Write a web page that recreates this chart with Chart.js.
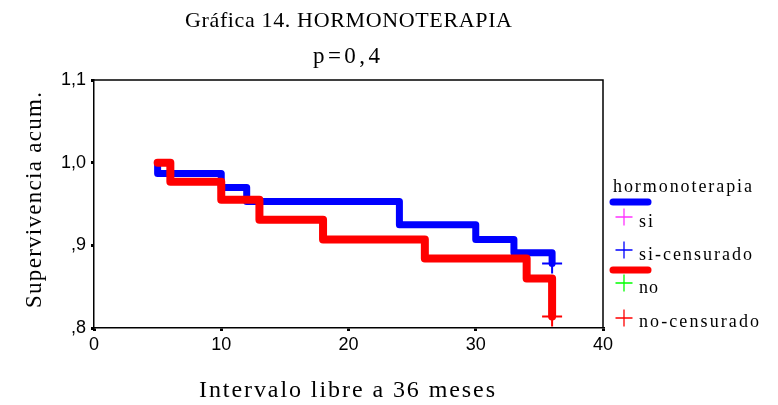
<!DOCTYPE html>
<html>
<head>
<meta charset="utf-8">
<script src="https://cdn.jsdelivr.net/npm/chart.js@4/dist/chart.umd.min.js"></script>
<style>
  html, body { margin: 0; padding: 0; background: #fff; }
  #wrap { width: 778px; height: 405px; }
</style>
</head>
<body>
<div id="wrap"><canvas id="kmChart" width="778" height="405"></canvas></div>
<script>
// Kaplan-Meier curves
const siTimes = [5, 5, 10, 12, 24, 30, 33, 36];
const siSurv = [1.0, 0.987, 0.970, 0.953, 0.925, 0.907, 0.891, 0.878];
const noTimes = [5, 6, 10, 13, 18, 26, 34, 36];
const noSurv = [1.0, 0.977, 0.955, 0.931, 0.907, 0.884, 0.860, 0.814];

// censored marks
const siCensTimes = [36];
const siCensSurv = [0.878];
const noCensTimes = [36];
const noCensSurv = [0.814];

const xTicks = [0, 10, 20, 30, 40];
const yTicks = [0.8, 0.9, 1.0, 1.1];

const toPoints = (xs, ys) => xs.map((x, i) => ({ x: x, y: ys[i] }));

const serif = '"Liberation Serif", "Times New Roman", serif';
const sans = '"Liberation Sans", Arial, sans-serif';

// draw text stretched to a given width with letter spacing
const spacedText = (ctx, text, x, y, width, align) => {
  ctx.letterSpacing = "0px";
  const w0 = ctx.measureText(text).width;
  const sp = text.length > 1 ? (width - w0) / (text.length - 1) : 0;
  ctx.letterSpacing = sp + "px";
  const w = w0 + sp * (text.length - 1);
  let left = x;
  if (align === "center") left = x - w / 2;
  ctx.textAlign = "left";
  ctx.fillText(text, left, y);
  ctx.letterSpacing = "0px";
};

const cross = (ctx, cx, cy, size, color) => {
  ctx.strokeStyle = color;
  ctx.lineWidth = 1.3;
  ctx.beginPath();
  ctx.moveTo(cx - size / 2, cy);
  ctx.lineTo(cx + size / 2, cy);
  ctx.moveTo(cx, cy - size / 2);
  ctx.lineTo(cx, cy + size / 2);
  ctx.stroke();
};

const decorations = {
  id: "decorations",
  afterDraw(chart) {
    const ctx = chart.ctx;
    const a = chart.chartArea;
    ctx.save();

    // box around the plot
    ctx.strokeStyle = "#000";
    ctx.lineWidth = 1.5;
    ctx.beginPath();
    ctx.moveTo(a.left, a.top);
    ctx.lineTo(a.right, a.top);
    ctx.lineTo(a.right, a.bottom);
    ctx.stroke();

    ctx.fillStyle = "#000";
    ctx.textBaseline = "alphabetic";

    // titles
    ctx.font = "22px " + serif;
    spacedText(ctx, "Gráfica 14. HORMONOTERAPIA", 348.5, 27, 327, "center");
    ctx.font = "23px " + serif;
    spacedText(ctx, "p=0,4", 346.5, 63, 67, "center");
    ctx.font = "24px " + serif;
    spacedText(ctx, "Intervalo libre a 36 meses", 347, 397, 296, "center");

    // y title
    ctx.save();
    ctx.translate(41, 200);
    ctx.rotate(-Math.PI / 2);
    ctx.font = "23px " + serif;
    spacedText(ctx, "Supervivencia acum.", 0, 0, 216, "center");
    ctx.restore();

    // legend
    ctx.font = "18px " + serif;
    ctx.fillStyle = "#000";
    spacedText(ctx, "hormonoterapia", 613, 192, 139, "left");
    ctx.lineCap = "round";
    ctx.lineWidth = 7;
    ctx.strokeStyle = "#0000ff";
    ctx.beginPath();
    ctx.moveTo(613, 202);
    ctx.lineTo(648, 202);
    ctx.stroke();
    ctx.strokeStyle = "#ff0000";
    ctx.beginPath();
    ctx.moveTo(613, 270);
    ctx.lineTo(648, 270);
    ctx.stroke();
    ctx.lineCap = "butt";

    cross(ctx, 624, 217, 17, "#ff33ff");
    cross(ctx, 624, 250, 17, "#0000ff");
    cross(ctx, 624, 283, 17, "#00ff00");
    cross(ctx, 624, 318, 17, "#ff0000");

    ctx.fillStyle = "#000";
    spacedText(ctx, "si", 639, 227, 14, "left");
    spacedText(ctx, "si-censurado", 639, 260, 113, "left");
    spacedText(ctx, "no", 639, 293, 19, "left");
    spacedText(ctx, "no-censurado", 639, 327, 120, "left");

    ctx.restore();
  },
};

const fmtTick = (v) => {
  let s = Number(v).toFixed(1).replace(".", ",");
  if (s.startsWith("0")) s = s.slice(1);
  return s;
};

new Chart(document.getElementById("kmChart"), {
  type: "line",
  data: {
    datasets: [
      {
        label: "si",
        order: 3,
        data: toPoints(siTimes, siSurv),
        stepped: "before",
        borderColor: "#0000ff",
        borderWidth: 7,
        borderCapStyle: "round",
        borderJoinStyle: "round",
        pointRadius: 0,
        fill: false,
      },
      {
        label: "si-censurado",
        type: "scatter",
        order: 1,
        data: toPoints(siCensTimes, siCensSurv),
        pointStyle: "cross",
        pointRadius: 10,
        pointBorderWidth: 2,
        borderColor: "#0000ff",
        backgroundColor: "#0000ff",
        showLine: false,
      },
      {
        label: "no",
        order: 2,
        data: toPoints(noTimes, noSurv),
        stepped: "before",
        borderColor: "#ff0000",
        borderWidth: 8,
        borderCapStyle: "round",
        borderJoinStyle: "round",
        pointRadius: 0,
        fill: false,
      },
      {
        label: "no-censurado",
        type: "scatter",
        order: 0,
        data: toPoints(noCensTimes, noCensSurv),
        pointStyle: "cross",
        pointRadius: 10,
        pointBorderWidth: 2,
        borderColor: "#ff0000",
        backgroundColor: "#ff0000",
        showLine: false,
      },
    ],
  },
  options: {
    responsive: false,
    animation: false,
    layout: { padding: { top: 80, right: 175, left: 0, bottom: 0 } },
    plugins: {
      legend: { display: false },
      tooltip: { enabled: false },
      title: { display: false },
    },
    scales: {
      x: {
        type: "linear",
        min: 0,
        max: 40,
        afterFit: (s) => { s.height = 77; },
        afterBuildTicks: (s) => { s.ticks = xTicks.map((v) => ({ value: v })); },
        border: { display: true, color: "#000", width: 1.5 },
        grid: { display: true, drawOnChartArea: false, drawTicks: true, tickLength: 3, lineWidth: 3, color: "#000" },
        ticks: { color: "#000", padding: 3, maxRotation: 0, font: { family: sans, size: 18 } },
      },
      y: {
        type: "linear",
        min: 0.8,
        max: 1.1,
        afterFit: (s) => { s.width = 94; },
        afterBuildTicks: (s) => { s.ticks = yTicks.map((v) => ({ value: v })); },
        border: { display: true, color: "#000", width: 1.5 },
        grid: { display: true, drawOnChartArea: false, drawTicks: true, tickLength: 3, lineWidth: 3, color: "#000" },
        ticks: { color: "#000", padding: 5, callback: fmtTick, font: { family: sans, size: 18 } },
      },
    },
  },
  plugins: [decorations],
});
</script>
</body>
</html>
